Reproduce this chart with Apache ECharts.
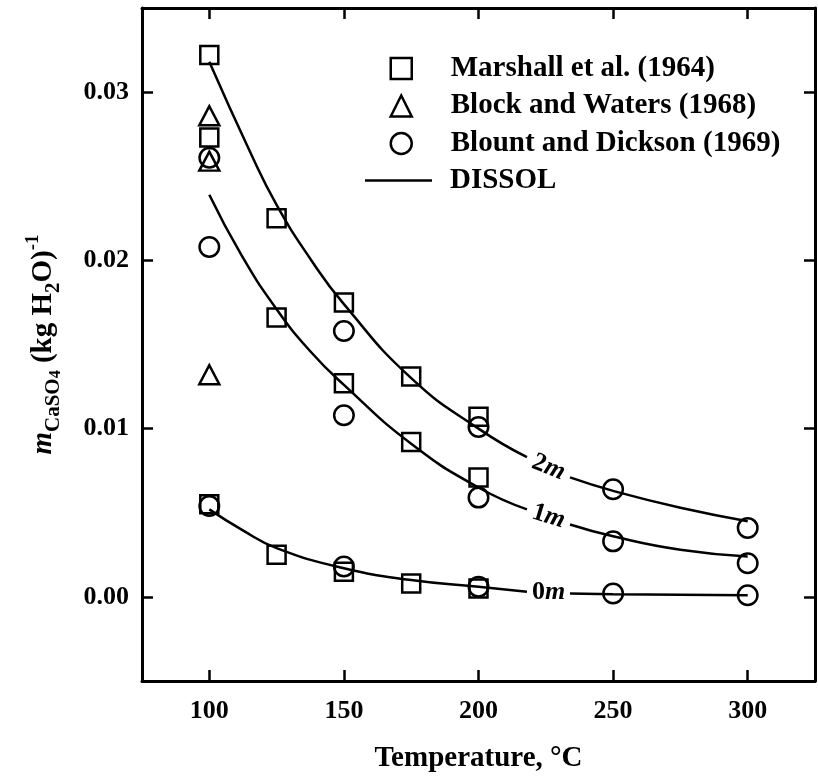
<!DOCTYPE html>
<html>
<head>
<meta charset="utf-8">
<title>CaSO4 solubility</title>
<script src="https://cdn.jsdelivr.net/npm/echarts@6/dist/echarts.min.js"></script>
<style>
  html, body { margin: 0; padding: 0; background: #fff; }
  #chart { width: 818px; height: 780px; }
</style>
</head>
<body>
<div id="chart"></div>
<script>
// measured points, [temperature C, molality]
const marshall = [
  [100, 0.0322], [100, 0.0273], [100, 0.0055],
  [125, 0.0225], [125, 0.0166], [125, 0.0025],
  [150, 0.0175], [150, 0.0127], [150, 0.0015],
  [175, 0.0131], [175, 0.0092], [175, 0.0008],
  [200, 0.0107], [200, 0.0071], [200, 0.0005]
];
const blockWaters = [[100, 0.0286], [100, 0.0259], [100, 0.0132]];
const blountDickson = [
  [100, 0.0261], [100, 0.0208], [100, 0.0054],
  [150, 0.0158], [150, 0.0108], [150, 0.0018],
  [200, 0.0101], [200, 0.0059], [200, 0.0006],
  [250, 0.0064], [250, 0.0033], [250, 0.0002],
  [300, 0.0041], [300, 0.0020], [300, 0.0001]
];

// DISSOL curves (gap where the label sits)
const dissol2m = [
  [100, 0.0318], [115, 0.0265], [125, 0.0233], [137.5, 0.0201], [150, 0.0174],
  [175, 0.0130], [200, 0.0100], [218, 0.0083], ["-", "-"],
  [234, 0.0071], [250, 0.0063], [275, 0.0053], [300, 0.0045]
];
const dissol1m = [
  [100, 0.0239], [112, 0.0203], [125, 0.0171], [137.5, 0.0146], [150, 0.0126],
  [175, 0.0091], [200, 0.0065], [218, 0.0052], ["-", "-"],
  [234, 0.0043], [250, 0.0036], [275, 0.0028], [300, 0.0024]
];
const dissol0m = [
  [100, 0.0052], [112, 0.0040], [125, 0.0029], [150, 0.0017], [175, 0.0010],
  [200, 0.0006], [218, 0.0003], ["-", "-"],
  [234, 0.0002], [250, 0.00016], [275, 0.00012], [300, 0.0001]
];
const curveLabels = [
  { value: [226, 0.0077], text: "2", rot: -22 },
  { value: [226, 0.00478], text: "1", rot: -17 },
  { value: [226, 0.0003], text: "0", rot: 0 }
];

const xTicks = [100, 150, 200, 250, 300];
const yTicks = [0, 0.01, 0.02, 0.03];

const FONT = "Liberation Serif";
const BLACK = "#000";

const hollow = { color: "rgba(0,0,0,0)", borderColor: BLACK, borderWidth: 2.5, opacity: 1 };
const legendText = {
  fontFamily: FONT, fontSize: 29, fontWeight: "bold", color: BLACK, lineHeight: 30
};

function frameAxis(extra) {
  return Object.assign({
    type: "value",
    axisLine: { show: true, onZero: false, lineStyle: { color: BLACK, width: 3 } },
    splitLine: { show: false }
  }, extra);
}

const chart = echarts.init(document.getElementById("chart"), null, { renderer: "canvas" });

const dissolSeries = [dissol2m, dissol1m, dissol0m].map(d => ({
  name: "DISSOL",
  type: "line",
  data: d,
  smooth: 0.5,
  symbol: "none",
  connectNulls: false,
  lineStyle: { color: BLACK, width: 2.5 },
  itemStyle: { color: BLACK, opacity: 1 },
  z: 3
}));

chart.setOption({
  animation: false,
  backgroundColor: "#fff",
  textStyle: { fontFamily: FONT, color: BLACK },
  grid: { left: 142, right: 3, top: 8, bottom: 99, outerBoundsMode: "none" },
  legend: [
    {
      // marker entries
      orient: "vertical",
      left: 384.5,
      top: 48.5,
      itemWidth: 21,
      itemHeight: 21,
      itemGap: 7.5,
      selectedMode: false,
      textStyle: Object.assign({ padding: [0, 0, 0, 34] }, legendText),
      data: [
        { name: "Marshall et al. (1964)", icon: "rect", itemStyle: hollow },
        { name: "Block and Waters (1968)", icon: "triangle", itemStyle: hollow },
        { name: "Blount and Dickson (1969)", icon: "circle", itemStyle: hollow }
      ]
    },
    {
      // model curve entry
      orient: "vertical",
      left: 360,
      top: 160.5,
      itemWidth: 67,
      itemHeight: 21,
      selectedMode: false,
      textStyle: Object.assign({ padding: [0, 0, 0, 13] }, legendText),
      data: [
        { name: "DISSOL", icon: "path://M0,0H67V2.5H0Z",
          itemStyle: { color: BLACK, borderWidth: 0, opacity: 1 } }
      ]
    }
  ],
  xAxis: [
    frameAxis({
      min: 75, max: 325,
      name: "Temperature, °C",
      nameLocation: "middle",
      nameGap: 63,
      nameTextStyle: { fontFamily: FONT, fontSize: 29, fontWeight: "bold", color: BLACK },
      axisTick: { show: true, inside: true, length: 11, customValues: xTicks,
        lineStyle: { color: BLACK, width: 2.5 } },
      axisLabel: { customValues: xTicks, margin: 17, fontFamily: FONT, fontSize: 26,
        fontWeight: "bold", color: BLACK }
    }),
    frameAxis({
      position: "top", min: 75, max: 325,
      axisTick: { show: true, inside: true, length: 11, customValues: xTicks,
        lineStyle: { color: BLACK, width: 2.5 } },
      axisLabel: { show: false }
    })
  ],
  yAxis: [
    frameAxis({
      min: -0.005, max: 0.035,
      name: "{mi|m}{sub|CaSO}{sub2|4}{t| (kg H}{sub|2}{t|O)}{sup|-1}",
      nameLocation: "middle",
      nameRotate: 90,
      nameGap: 78,
      nameTextStyle: {
        rich: {
          t: { fontFamily: FONT, fontSize: 29, fontWeight: "bold", lineHeight: 40, color: BLACK },
          mi: { fontFamily: FONT, fontSize: 29, fontWeight: "bold", fontStyle: "italic", lineHeight: 40, color: BLACK },
          sub: { fontFamily: FONT, fontSize: 21, fontWeight: "bold", lineHeight: 21, verticalAlign: "bottom", color: BLACK },
          sub2: { fontFamily: FONT, fontSize: 16, fontWeight: "bold", lineHeight: 16, verticalAlign: "bottom", color: BLACK },
          sup: { fontFamily: FONT, fontSize: 19, fontWeight: "bold", lineHeight: 19, verticalAlign: "top", color: BLACK }
        }
      },
      axisTick: { show: true, inside: true, length: 11, customValues: yTicks,
        lineStyle: { color: BLACK, width: 2.5 } },
      axisLabel: { customValues: yTicks, margin: 13, fontFamily: FONT, fontSize: 26,
        fontWeight: "bold", color: BLACK, formatter: v => v.toFixed(2) }
    }),
    frameAxis({
      position: "right", min: -0.005, max: 0.035,
      axisTick: { show: true, inside: true, length: 11, customValues: yTicks,
        lineStyle: { color: BLACK, width: 2.5 } },
      axisLabel: { show: false }
    })
  ],
  series: [
    {
      name: "Marshall et al. (1964)", type: "scatter", data: marshall,
      symbol: "rect", symbolSize: 18, itemStyle: hollow, z: 4
    },
    {
      name: "Block and Waters (1968)", type: "scatter", data: blockWaters,
      symbol: "triangle", symbolSize: [20, 19], itemStyle: hollow, z: 4
    },
    {
      name: "Blount and Dickson (1969)", type: "scatter", data: blountDickson,
      symbol: "circle", symbolSize: 19.5, itemStyle: hollow, z: 4
    },
    ...dissolSeries,
    {
      name: "labels", type: "scatter", symbolSize: 1, silent: true,
      itemStyle: { color: "rgba(0,0,0,0)", opacity: 1 },
      data: curveLabels.map(l => ({
        value: l.value,
        label: {
          show: true, position: "inside", rotate: l.rot, opacity: 1,
          formatter: "{n|" + l.text + "}{i|m}",
          rich: {
            n: { fontFamily: FONT, fontSize: 26, fontWeight: "bold", color: BLACK },
            i: { fontFamily: FONT, fontSize: 26, fontWeight: "bold", fontStyle: "italic", color: BLACK }
          }
        }
      })),
      z: 5
    }
  ]
});
</script>
</body>
</html>
